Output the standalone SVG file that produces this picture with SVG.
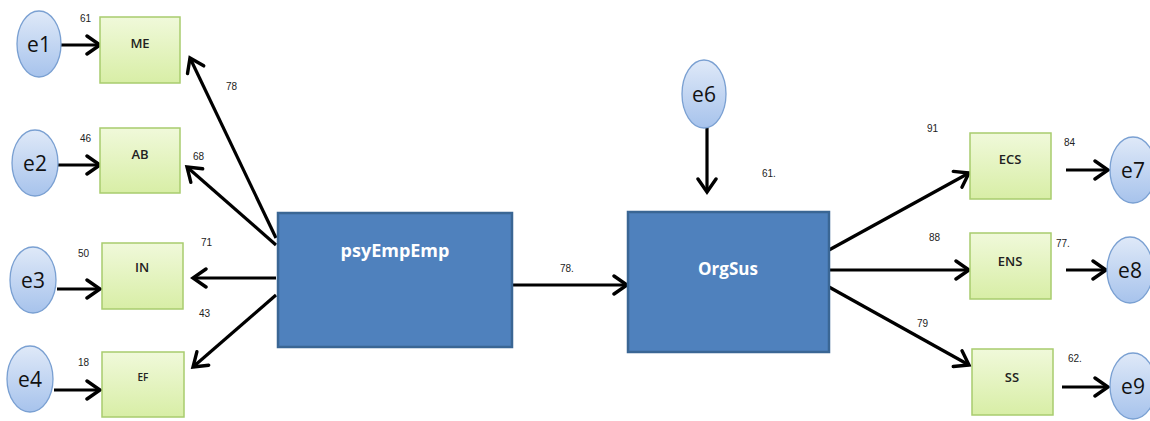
<svg xmlns="http://www.w3.org/2000/svg" width="1150" height="421" viewBox="0 0 1150 421">
<defs>
<linearGradient id="gGreen" x1="0" y1="0" x2="0" y2="1">
<stop offset="0" stop-color="#f0f9da"/><stop offset="1" stop-color="#d8eea6"/>
</linearGradient>
<linearGradient id="gBlue" x1="0" y1="0" x2="0" y2="1">
<stop offset="0" stop-color="#dfe9f8"/><stop offset="1" stop-color="#a7c3ec"/>
</linearGradient>
<marker id="arr" markerUnits="userSpaceOnUse" markerWidth="22" markerHeight="22" viewBox="0 0 22 22" refX="18" refY="11" orient="auto">
<path d="M5,2 L18,11 L5,20" fill="none" stroke="#000" stroke-width="3.4" stroke-linecap="round" stroke-linejoin="miter"/>
</marker>
<style>
.obs{fill:url(#gGreen);stroke:#a8cc6e;stroke-width:1.5}
.err{fill:url(#gBlue);stroke:#7aa0d2;stroke-width:1.3}
.lat{fill:#4f81bd;stroke:#3a6694;stroke-width:2.5}
.lbl{font-family:"Open Sans","Liberation Sans",Arial,sans-serif;font-size:13px;font-weight:600;fill:#222;text-anchor:middle}
.elbl{font-family:"Open Sans","Liberation Sans",Arial,sans-serif;font-size:21px;fill:#111;text-anchor:middle}
.big{font-family:"Open Sans","Liberation Sans",Arial,sans-serif;font-size:18px;font-weight:bold;fill:#fff;text-anchor:middle}
.num{font-family:"Liberation Sans",Arial,sans-serif;font-size:10px;fill:#222}
.con line{stroke:#000;stroke-width:3.2;marker-end:url(#arr)}
</style>
</defs>

<g id="connectors" class="con">
<line x1="60" y1="45" x2="100" y2="45"/>
<line x1="58" y1="165" x2="100" y2="165"/>
<line x1="57" y1="289" x2="100" y2="289"/>
<line x1="54" y1="390" x2="100" y2="390"/>
<line x1="276" y1="238" x2="190" y2="58"/>
<line x1="276" y1="245" x2="187" y2="167"/>
<line x1="276" y1="278" x2="193" y2="278"/>
<line x1="276" y1="295" x2="193" y2="367"/>
<line x1="512" y1="285" x2="627" y2="285"/>
<line x1="707" y1="128" x2="707" y2="192"/>
<line x1="829" y1="250" x2="969" y2="173"/>
<line x1="829" y1="270" x2="969" y2="270"/>
<line x1="829" y1="287" x2="969" y2="365"/>
<line x1="1066" y1="170" x2="1108" y2="170"/>
<line x1="1066" y1="270" x2="1106" y2="270"/>
<line x1="1062" y1="387" x2="1108" y2="387"/>
</g>

<g id="e1"><ellipse class="err" cx="39" cy="44" rx="22" ry="33"/><text class="elbl" x="39" y="52">e1</text></g>
<g id="e2"><ellipse class="err" cx="35" cy="163" rx="23" ry="33"/><text class="elbl" x="35" y="171">e2</text></g>
<g id="e3"><ellipse class="err" cx="33" cy="280" rx="23" ry="33"/><text class="elbl" x="33" y="288">e3</text></g>
<g id="e4"><ellipse class="err" cx="30" cy="379" rx="23" ry="33"/><text class="elbl" x="30" y="387">e4</text></g>
<g id="e6"><ellipse class="err" cx="704" cy="94" rx="22" ry="34"/><text class="elbl" x="704" y="102">e6</text></g>
<g id="e7"><ellipse class="err" cx="1133" cy="170" rx="23" ry="33"/><text class="elbl" x="1133" y="178">e7</text></g>
<g id="e8"><ellipse class="err" cx="1130" cy="270" rx="23" ry="33"/><text class="elbl" x="1130" y="278">e8</text></g>
<g id="e9"><ellipse class="err" cx="1133" cy="386" rx="23" ry="33"/><text class="elbl" x="1133" y="394">e9</text></g>

<g id="ME"><rect class="obs" x="100" y="17" width="80" height="66"/><text class="lbl" x="140" y="48">ME</text></g>
<g id="AB"><rect class="obs" x="100" y="128" width="80" height="65"/><text class="lbl" x="140" y="159">AB</text></g>
<g id="IN"><rect class="obs" x="102" y="243" width="81" height="66"/><text class="lbl" x="142" y="272">IN</text></g>
<g id="EF"><rect class="obs" x="102" y="352" width="82" height="65"/><text class="lbl" x="143" y="381" style="font-size:10px">EF</text></g>
<g id="ECS"><rect class="obs" x="970" y="133" width="81" height="66"/><text class="lbl" x="1010" y="164">ECS</text></g>
<g id="ENS"><rect class="obs" x="970" y="233" width="81" height="66"/><text class="lbl" x="1010" y="266">ENS</text></g>
<g id="SS"><rect class="obs" x="972" y="349" width="81" height="66"/><text class="lbl" x="1012" y="382">SS</text></g>

<g id="psyEmpEmp"><rect class="lat" x="278" y="213" width="234" height="134"/><text class="big" x="395" y="257">psyEmpEmp</text></g>
<g id="OrgSus"><rect class="lat" x="628" y="212" width="201" height="140"/><text class="big" x="728" y="275" style="font-size:17px">OrgSus</text></g>

<g id="labels">
<text class="num" x="80" y="22">61</text>
<text class="num" x="80" y="142">46</text>
<text class="num" x="78" y="257">50</text>
<text class="num" x="78" y="366">18</text>
<text class="num" x="226" y="90">78</text>
<text class="num" x="193" y="160">68</text>
<text class="num" x="201" y="246">71</text>
<text class="num" x="199" y="317">43</text>
<text class="num" x="560" y="272">78.</text>
<text class="num" x="762" y="177">61.</text>
<text class="num" x="927" y="132">91</text>
<text class="num" x="929" y="241">88</text>
<text class="num" x="917" y="327">79</text>
<text class="num" x="1064" y="146">84</text>
<text class="num" x="1056" y="247">77.</text>
<text class="num" x="1068" y="362">62.</text>
</g>
</svg>
